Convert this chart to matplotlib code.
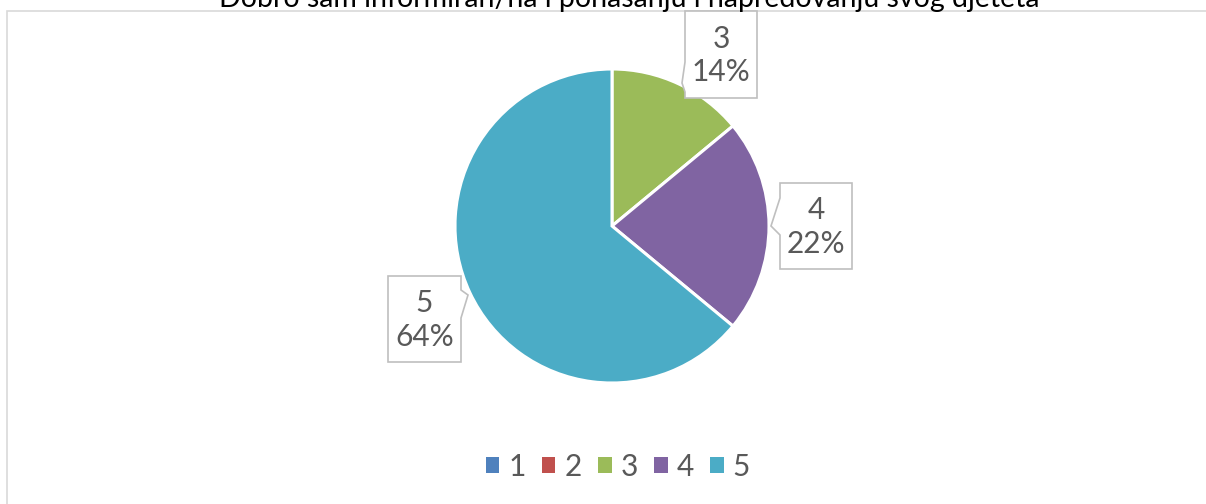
import matplotlib
matplotlib.use('Agg')
import matplotlib.pyplot as plt
from matplotlib.patches import Polygon, Rectangle

plt.rcParams['font.family'] = ['Lato', 'DejaVu Sans']

# data
title = 'Dobro sam informiran/na i ponašanju i napredovanju svog djeteta'
categories = ['1', '2', '3', '4', '5']
shares = [0, 0, 14, 22, 64]
colors = ['#4F81BD', '#C0504D', '#9BBB59', '#8064A2', '#4BACC6']

W, H = 1206, 504
fig = plt.figure(figsize=(W / 100, H / 100), dpi=100)
ax = fig.add_axes([0, 0, 1, 1])

# chart frame (only left/top edges are inside the picture)
ax.add_patch(Rectangle((7, -10), W + 20, H - 11 + 10, fill=False,
                       edgecolor='#D9D9D9', linewidth=1.2))

# title is clipped by the top edge, like in the original export
fig.text(629 / W, 1 - 7 / H, title, ha='center', va='baseline',
         fontsize=20.5, color='#000000')

wedges, _ = ax.pie(shares, colors=colors, startangle=90, counterclock=False,
                   center=(612, H - 226), radius=157, frame=True,
                   wedgeprops=dict(edgecolor='white', linewidth=2.2))
ax.set_xlim(0, W)
ax.set_ylim(0, H)
ax.set_aspect('equal')
ax.axis('off')

# callout boxes: (x0, x1, ytop, ybot) in pixels, pointer side, pointer tip
callouts = {
    2: ((685, 757, 11, 98), 'left', (682, 83), (62, 92)),
    3: ((780, 852, 183, 269), 'left', (771, 226), (198, 235)),
    4: ((388, 461, 276, 362), 'right', (468, 295), (290, 318)),
}
for i, ((x0, x1, yt, yb), side, tip, (p0, p1)) in callouts.items():
    if side == 'left':
        pts = [(x0, yt), (x1, yt), (x1, yb), (x0, yb), (x0, p1), tip, (x0, p0)]
    else:
        pts = [(x0, yt), (x1, yt), (x1, p0), tip, (x1, p1), (x1, yb), (x0, yb)]
    pts = [(px, H - py) for px, py in pts]
    ax.add_patch(Polygon(pts, closed=True, facecolor='white',
                         edgecolor='#BFBFBF', linewidth=1.2, zorder=5))
    ax.text((x0 + x1) / 2, H - (yt + yb) / 2 - 1,
            '%s\n%d%%' % (categories[i], shares[i]),
            ha='center', va='center', fontsize=21.5, color='#595959',
            linespacing=1.25, zorder=6)

leg = ax.legend(wedges, categories, loc='center', bbox_to_anchor=(618 / W, 1 - 467 / H),
                bbox_transform=fig.transFigure, ncol=5, frameon=False,
                fontsize=21.5, handlelength=0.45, handleheight=0.45,
                handletextpad=0.3, columnspacing=0.55, labelcolor='#595959')
for h in leg.legend_handles:
    h.set_edgecolor('none')

fig.savefig('out.png', dpi=100, facecolor='white')
